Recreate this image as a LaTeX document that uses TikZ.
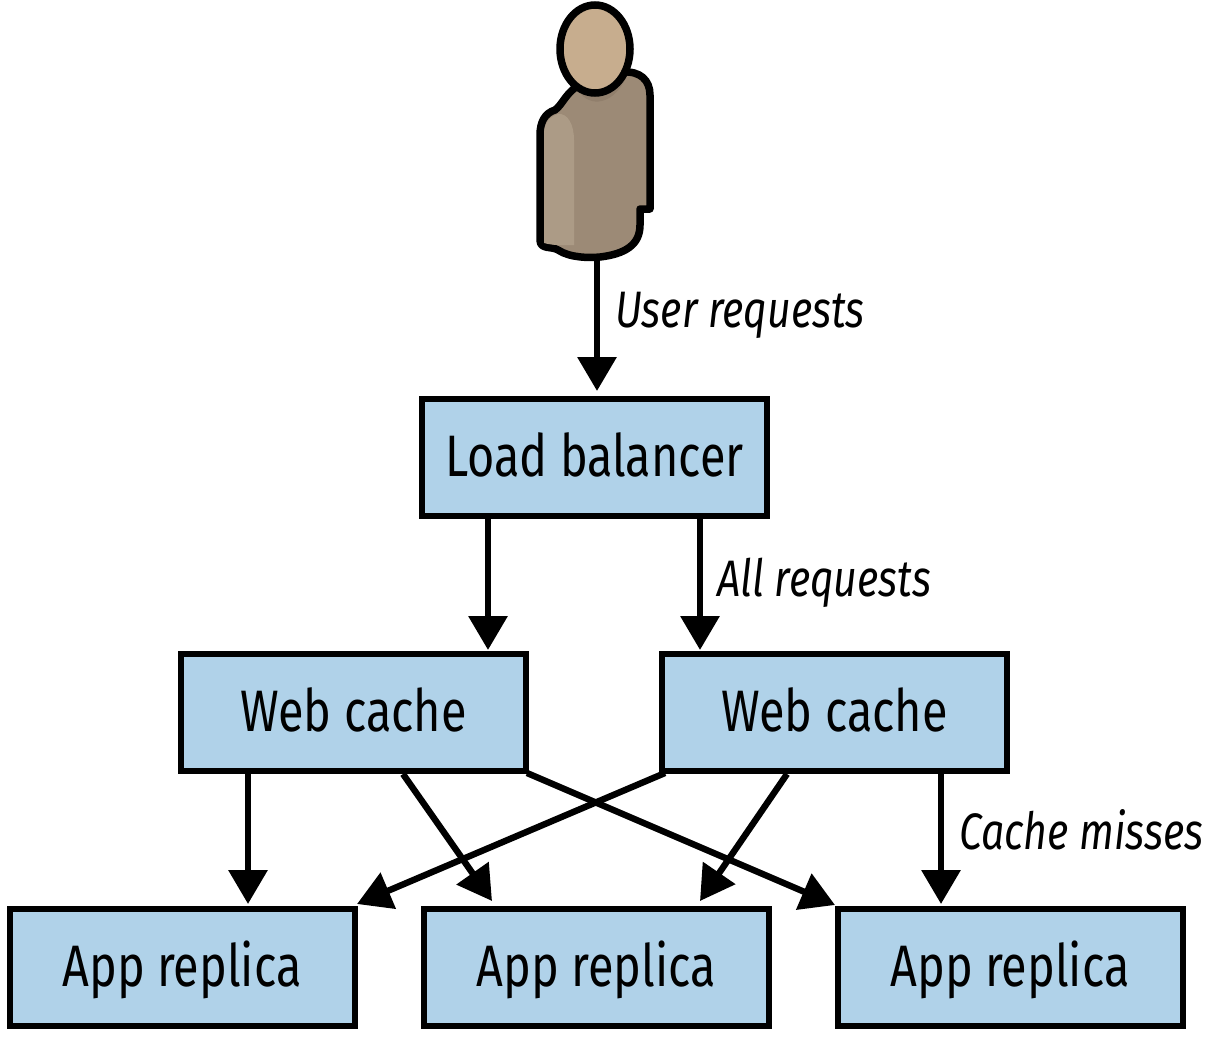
\documentclass[tikz,border=0pt]{standalone}
\usepackage{fontspec}
\usetikzlibrary{arrows.meta,calc}
\setmainfont{Fira Sans}[FakeStretch=0.8]
\definecolor{boxblue}{HTML}{B0D2E9}
\definecolor{bodymain}{HTML}{9C8A76}
\definecolor{bodylight}{HTML}{AC9B86}
\definecolor{bodyshade}{HTML}{917F6C}
\definecolor{headtone}{HTML}{C7AD8E}
\tikzset{
  x=1pt,y=-1pt,
  boxnode/.style={draw=black,line width=6pt,fill=boxblue,minimum height=117pt,inner sep=0pt,text height=51pt,text depth=13pt,font=\fontsize{58.5}{60}\selectfont,text=black},
  wide/.style={boxnode,minimum width=345pt},
  lbl/.style={anchor=base west,inner sep=0pt,font=\fontsize{51.3}{54}\selectfont\itshape},
  flow/.style={line width=6.4pt,-{Triangle[length=34pt,width=38pt]}},
}
\begin{document}
\begin{tikzpicture}
\useasboundingbox (0,0) rectangle (1207,1036);
\fill[white] (0,0) rectangle (1207,1036);
% person
\draw[line width=7.5pt,line join=round,fill=bodymain]
 (576,87) .. controls (565,95) and (562,105) .. (555,110)
 .. controls (545,113) and (540,122) .. (540,135)
 -- (540,240) .. controls (540,250) and (552,246) .. (558,250)
 .. controls (570,258) and (590,258) .. (600,257)
 .. controls (625,254) and (640,245) .. (640,225)
 -- (640,209) -- (650,209) -- (650,95)
 .. controls (650,80) and (640,71) .. (623,72) -- cycle;
\fill[bodylight] (544,243) -- (544,135) .. controls (544,122) and (550,117) .. (558,114)
 .. controls (568,113) and (574,125) .. (574,140) -- (574,245) .. controls (565,245) and (555,246) .. (544,243) -- cycle;
\fill[bodyshade] (578,89) .. controls (585,105) and (610,110) .. (626,78) -- (622,76) -- (580,87) -- cycle;
\draw[line width=7.5pt,fill=headtone] (595,49) ellipse (35 and 44);
\coordinate (personfoot) at (597,257);
% boxes
\node[wide] (lb) at (594.5,457.5) {Load balancer};
\node[wide] (wa) at (353.5,712) {Web cache};
\node[wide] (wb) at (834.5,712) {Web cache};
\node[wide] (aa) at (182,967) {App replica};
\node[wide] (ab) at (596.5,967) {App replica};
\node[wide] (ac) at (1010,967) {App replica};
% arrow ends
\coordinate (lbl1) at (488,517); \coordinate (wat) at (488,650);
\coordinate (lbl2) at (700,517); \coordinate (wbt) at (700,650);
\coordinate (lbt) at (597,391);
\coordinate (wa1) at (248,772); \coordinate (aa1) at (248,904);
\coordinate (wa2) at (403,774); \coordinate (ab1) at (492,901);
\coordinate (wa3) at (527,773); \coordinate (ac1) at (835,905);
\coordinate (wb1) at (665,773); \coordinate (aa2) at (357,904);
\coordinate (wb2) at (787,774); \coordinate (ab2) at (700,901);
\coordinate (wb3) at (941,772); \coordinate (ac2) at (941,904);
\draw[flow] (personfoot) -- (lbt);
\draw[flow] (lbl1) -- (wat);
\draw[flow] (lbl2) -- (wbt);
\draw[flow] (wa1) -- (aa1);
\draw[flow] (wa2) -- (ab1);
\draw[flow] (wa3) -- (ac1);
\draw[flow] (wb1) -- (aa2);
\draw[flow] (wb2) -- (ab2);
\draw[flow] (wb3) -- (ac2);
% labels
\node[lbl] (l1) at (615,327) {User requests};
\node[lbl] (l2) at (717,596) {All requests};
\node[lbl] (l3) at (959,849) {Cache misses};
\end{tikzpicture}
\end{document}
